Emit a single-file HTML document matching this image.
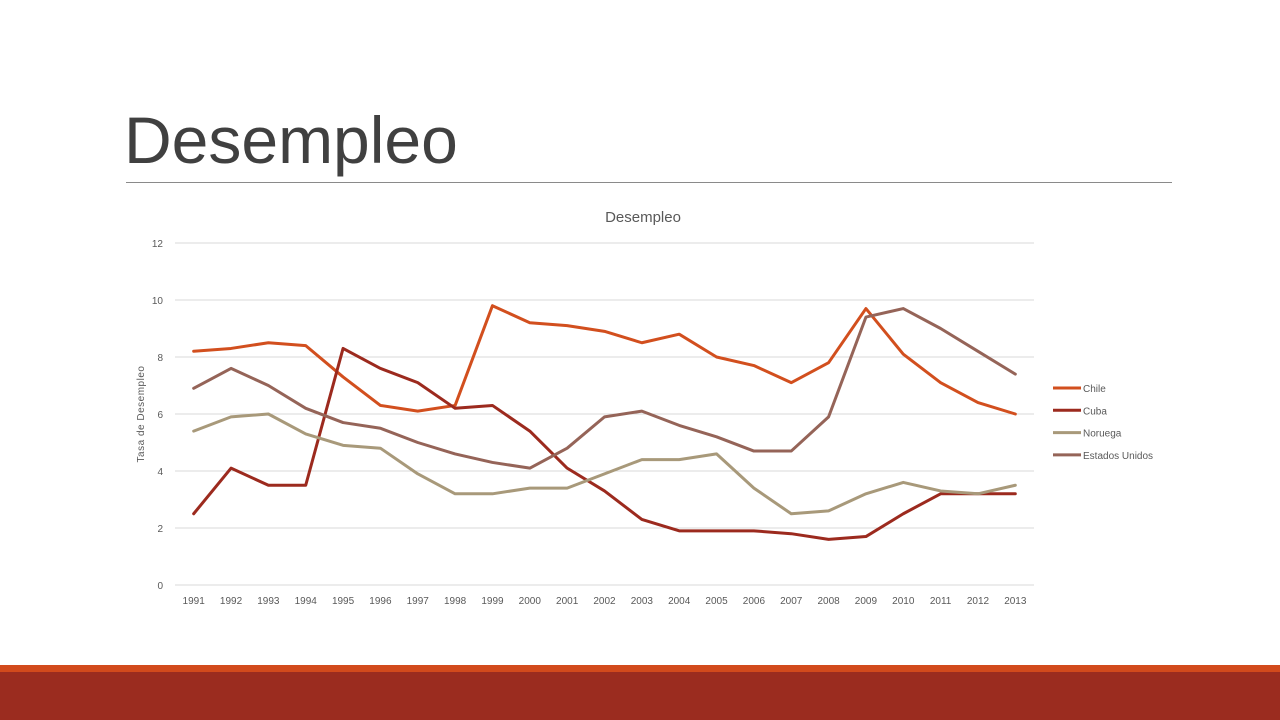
<!DOCTYPE html>
<html><head><meta charset="utf-8"><style>
body{margin:0;width:1280px;height:720px;background:#fff;position:relative;overflow:hidden;font-family:"Liberation Sans",sans-serif}
#title{position:absolute;left:124px;top:100px;font-size:66px;color:#404040;margin:0;font-weight:normal;line-height:80px}
#rule{position:absolute;left:126px;top:182px;width:1046px;height:1px;background:#8a8a8a}
#stripe{position:absolute;left:0;top:665px;width:1280px;height:7px;background:#D24A1C}
#band{position:absolute;left:0;top:672px;width:1280px;height:48px;background:#9B2C1F}
svg{position:absolute;left:0;top:0}
</style></head><body>
<h1 id="title">Desempleo</h1>
<div id="rule"></div>
<div id="stripe"></div>
<div id="band"></div>
<svg id="chart" width="1280" height="720"></svg>
<script>
const years=[1991,1992,1993,1994,1995,1996,1997,1998,1999,2000,2001,2002,2003,2004,2005,2006,2007,2008,2009,2010,2011,2012,2013];
const chile=[8.2,8.3,8.5,8.4,7.3,6.3,6.1,6.3,9.8,9.2,9.1,8.9,8.5,8.8,8.0,7.7,7.1,7.8,9.7,8.1,7.1,6.4,6.0];
const cuba=[2.5,4.1,3.5,3.5,8.3,7.6,7.1,6.2,6.3,5.4,4.1,3.3,2.3,1.9,1.9,1.9,1.8,1.6,1.7,2.5,3.2,3.2,3.2];
const noruega=[5.4,5.9,6.0,5.3,4.9,4.8,3.9,3.2,3.2,3.4,3.4,3.9,4.4,4.4,4.6,3.4,2.5,2.6,3.2,3.6,3.3,3.2,3.5];
const eeuu=[6.9,7.6,7.0,6.2,5.7,5.5,5.0,4.6,4.3,4.1,4.8,5.9,6.1,5.6,5.2,4.7,4.7,5.9,9.4,9.7,9.0,8.2,7.4];
const yTicks=[0,2,4,6,8,10,12];
const seriesNames=["Chile","Cuba","Noruega","Estados Unidos"];
const seriesData=[chile,cuba,noruega,eeuu];
const colors=["#D24F1E","#9C2A1E","#A8997A","#956458"];
const NS="http://www.w3.org/2000/svg";
const svg=document.getElementById('chart');
const x0=175,x1=1034,yTop=243,yBot=585,yMax=12;
const band=(x1-x0)/years.length;
const X=i=>x0+band*(i+0.5);
const Y=v=>yBot-(v/yMax)*(yBot-yTop);
function mk(tag,attrs){const e=document.createElementNS(NS,tag);for(const k in attrs)e.setAttribute(k,attrs[k]);svg.appendChild(e);return e;}
const ct=mk('text',{x:643,y:222,'text-anchor':'middle','font-size':15,fill:'#595959','font-family':'Liberation Sans, sans-serif'});
ct.textContent='Desempleo';


yTicks.forEach(t=>{
  const g=mk('line',{x1:x0,x2:x1,y1:Y(t),y2:Y(t),stroke:'#d9d9d9','stroke-width':1});
  
  
  const l=mk('text',{x:163,y:Y(t)+4,'text-anchor':'end','font-size':10,fill:'#595959'});
  l.textContent=t;
  
  
});
years.forEach((yr,i)=>{
  const l=mk('text',{x:X(i),y:604,'text-anchor':'middle','font-size':10,fill:'#595959'});
  l.textContent=yr;
  
  
});
const yt=mk('text',{x:0,y:0,'text-anchor':'middle','font-size':10,fill:'#595959','letter-spacing':'0.5',transform:'translate(144,414) rotate(-90)'});
yt.textContent='Tasa de Desempleo';


seriesData.forEach((d,s)=>{
  const p=mk('polyline',{points:d.map((v,i)=>X(i)+','+Y(v)).join(' '),fill:'none',stroke:colors[s],'stroke-width':3,'stroke-linejoin':'round','stroke-linecap':'round'});
  
  
  const ly=388+s*22.3;
  const ll=mk('line',{x1:1053,x2:1081,y1:ly,y2:ly,stroke:colors[s],'stroke-width':3});
  
  
  const lt=mk('text',{x:1083,y:ly+4,'font-size':10,fill:'#595959'});
  lt.textContent=seriesNames[s];
  
  
});
</script>
</body></html>
